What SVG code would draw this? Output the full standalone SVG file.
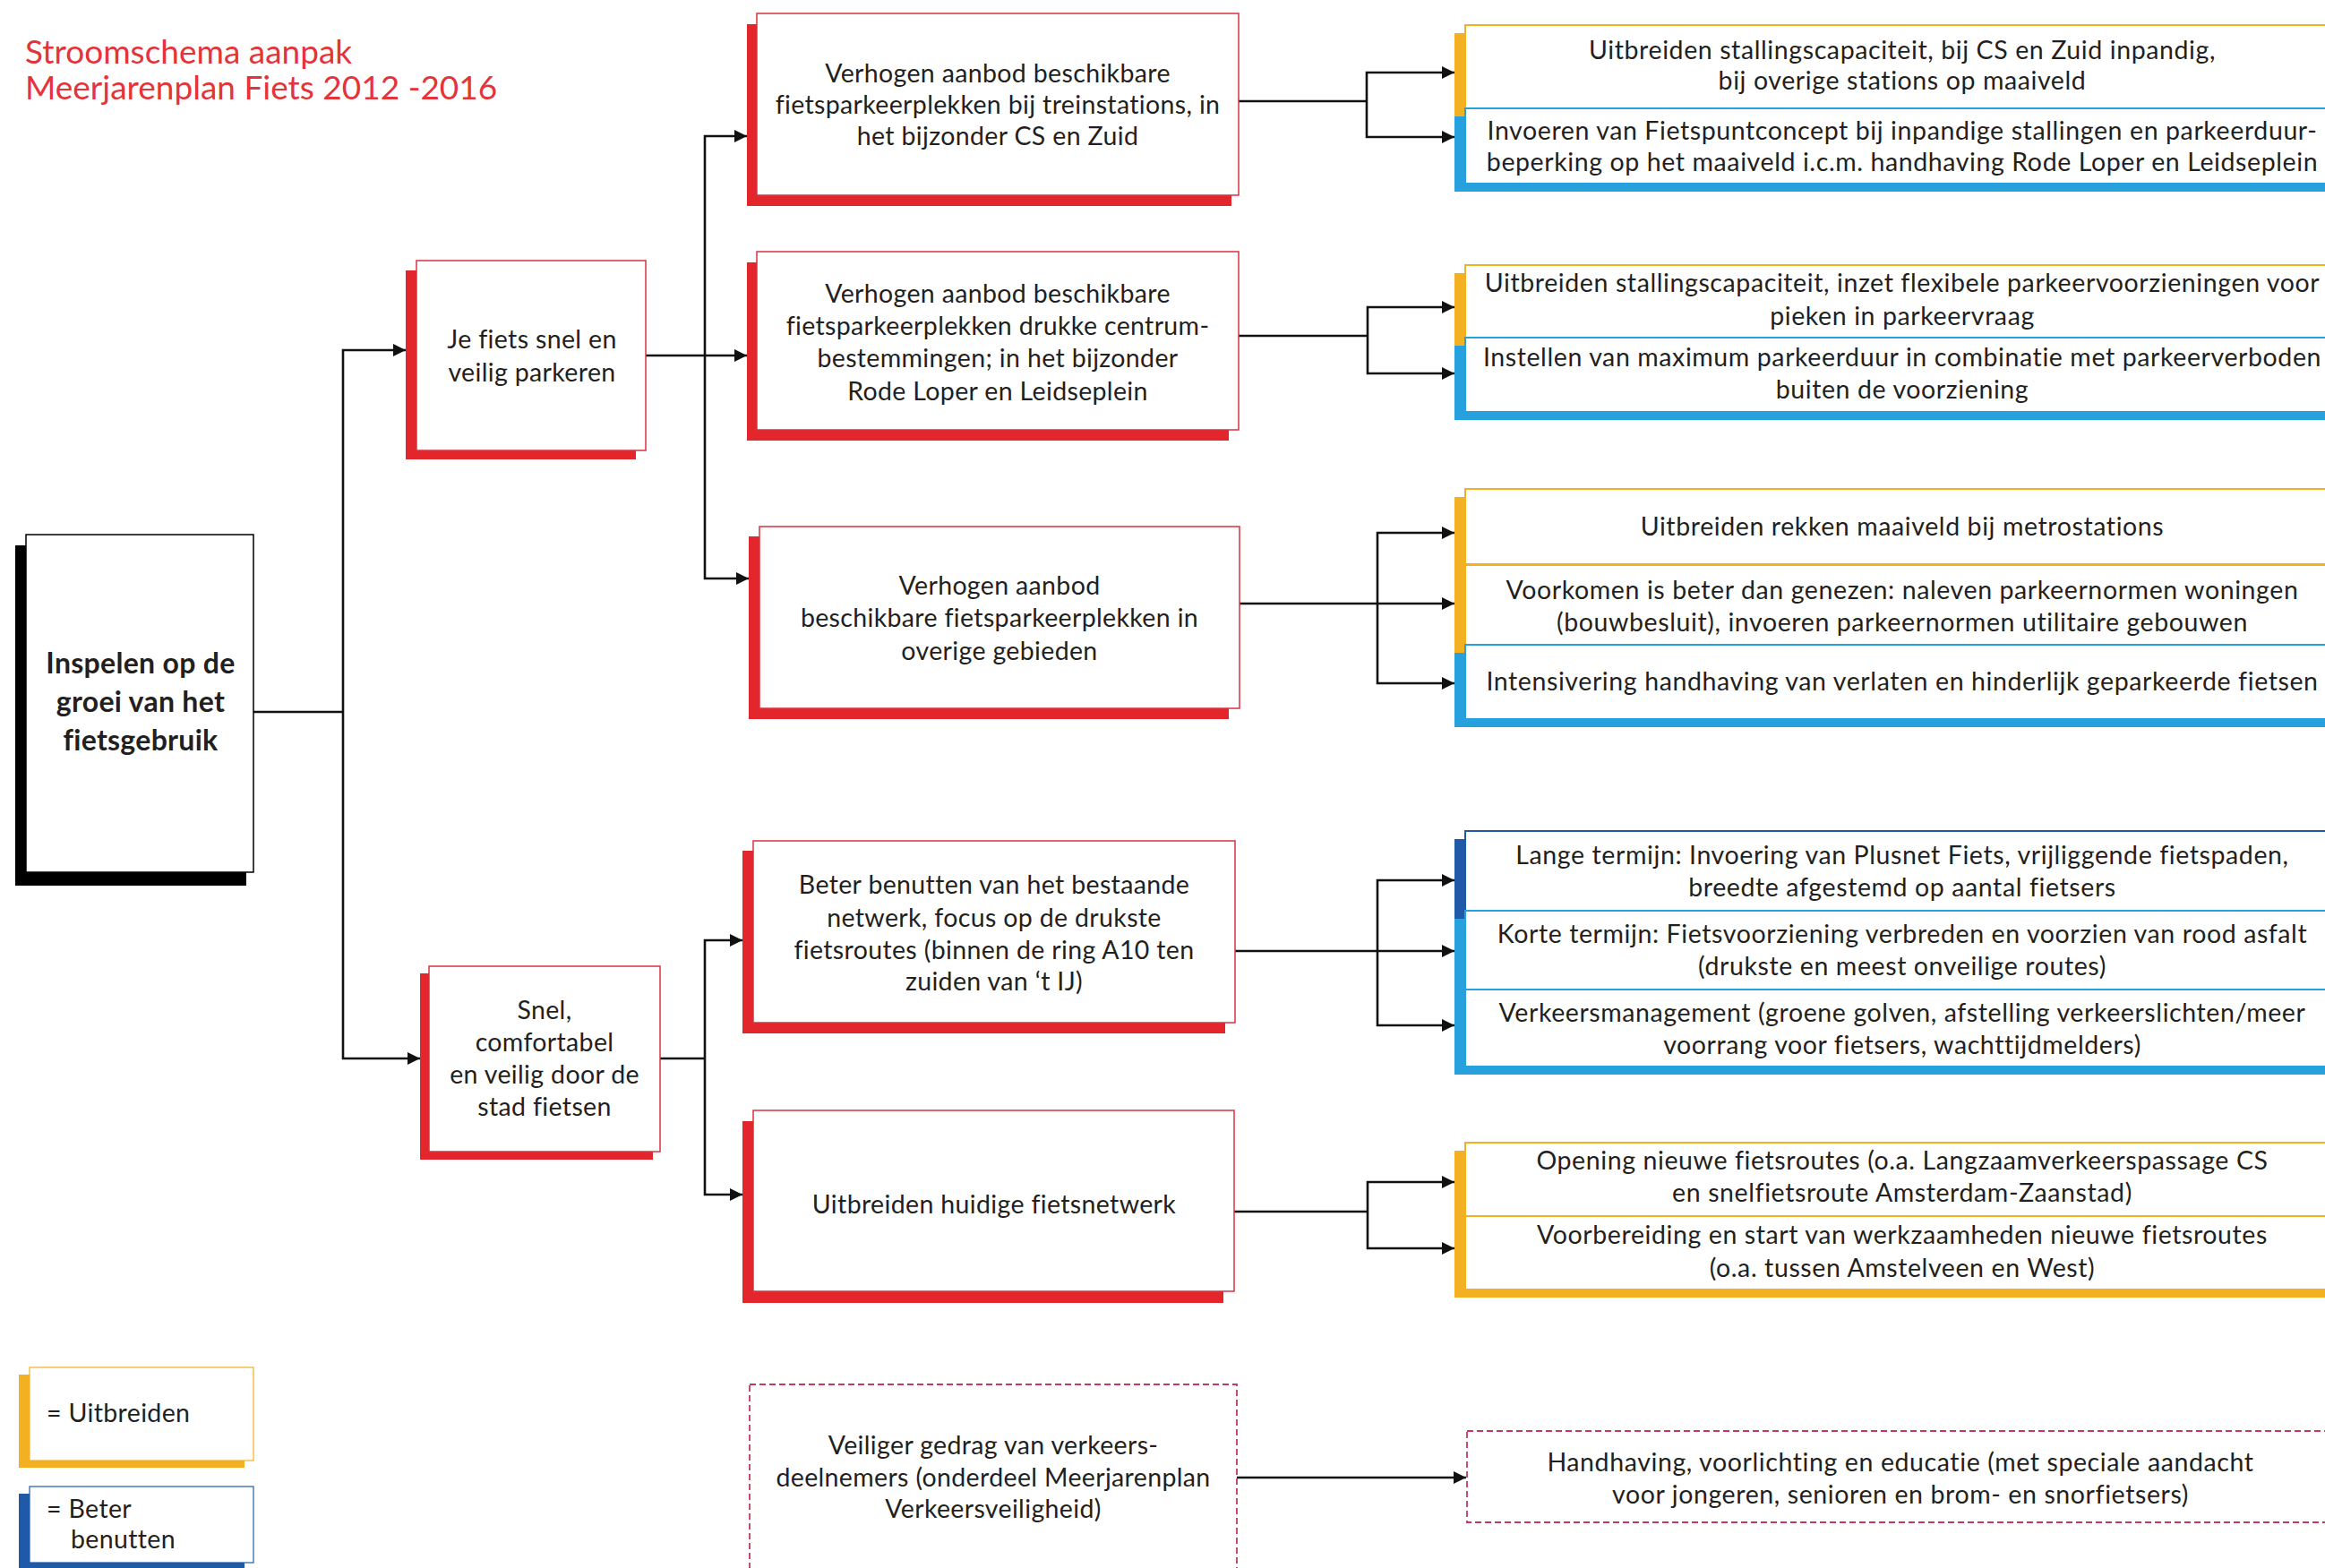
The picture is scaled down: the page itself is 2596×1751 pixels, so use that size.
<svg xmlns="http://www.w3.org/2000/svg" width="2596" height="1751" viewBox="0 0 2596 1751">
<style>
.t{font-family:Lato,"Noto Sans",sans-serif;font-size:28.5px;letter-spacing:0.35px;fill:#231f20;text-anchor:middle}
.rc{letter-spacing:0.6px}
.tl{text-anchor:start}
.tb{font-weight:bold;font-size:32px;letter-spacing:0.3px}
.title{font-family:Lato,"Noto Sans",sans-serif;font-size:37px;fill:#e4343a}
.sk{fill:#000}
.sr{fill:#e3262b}
.sy{fill:#f3b022}
.sb{fill:#27a1dd}
.sd{fill:#1f5aa8}
.wk{fill:#fff;stroke:#000;stroke-width:1.5}
.wr{fill:#fff;stroke:#d8323f;stroke-width:1.5}
.wy{fill:#fff;stroke:#f3b022;stroke-width:2}
.wb{fill:#fff;stroke:#27a1dd;stroke-width:2}
.wd{fill:#fff;stroke:#1f5aa8;stroke-width:2}
.dash{fill:#fff;stroke:#c33a5c;stroke-width:1.8;stroke-dasharray:7 4}
.ln{fill:none;stroke:#111;stroke-width:2.6}
.ar{fill:none;stroke:#111;stroke-width:2.6;marker-end:url(#ah)}
</style>
<defs>
<marker id="ah" viewBox="0 0 10 10" refX="10" refY="5" markerUnits="userSpaceOnUse" markerWidth="16" markerHeight="14" orient="auto">
<path d="M0,0 L10,5 L0,10 z" fill="#111"/>
</marker>
</defs>
<rect width="2596" height="1751" fill="#fff"/>

<g id="title">
<text class="title" x="28" y="71">Stroomschema aanpak</text>
<text class="title" x="28" y="111">Meerjarenplan Fiets 2012 -2016</text>
</g>

<g id="connectors">
<path class="ln" d="M283,795 H383"/>
<path class="ar" d="M383,795 V391 H453"/>
<path class="ar" d="M383,795 V1182 H469"/>
<path class="ln" d="M721,397 H787"/>
<path class="ar" d="M787,397 V152 H834"/>
<path class="ar" d="M787,397 H834"/>
<path class="ar" d="M787,397 V646 H836"/>
<path class="ln" d="M737,1182 H787"/>
<path class="ar" d="M787,1182 V1050 H829"/>
<path class="ar" d="M787,1182 V1334 H829"/>
<path class="ln" d="M1383,113 H1526"/>
<path class="ar" d="M1526,113 V81 H1624"/>
<path class="ar" d="M1526,113 V153 H1624"/>
<path class="ln" d="M1383,375 H1527"/>
<path class="ar" d="M1527,375 V343 H1624"/>
<path class="ar" d="M1527,375 V417 H1624"/>
<path class="ln" d="M1384,674 H1538"/>
<path class="ar" d="M1538,674 V595 H1624"/>
<path class="ar" d="M1538,674 H1624"/>
<path class="ar" d="M1538,674 V763 H1624"/>
<path class="ln" d="M1379,1062 H1538"/>
<path class="ar" d="M1538,1062 V983 H1624"/>
<path class="ar" d="M1538,1062 H1624"/>
<path class="ar" d="M1538,1062 V1145 H1624"/>
<path class="ln" d="M1378,1353 H1527"/>
<path class="ar" d="M1527,1353 V1320 H1624"/>
<path class="ar" d="M1527,1353 V1394 H1624"/>
<path class="ar" d="M1381,1650 H1637"/>
</g>

<g id="n-root">
<rect class="sk" x="17" y="609" width="258" height="380"/>
<rect class="wk" x="29" y="597" width="254" height="377"/>
<text class="t tb" x="157" y="752">Inspelen op de</text>
<text class="t tb" x="157" y="795">groei van het</text>
<text class="t tb" x="157" y="838">fietsgebruik</text>
</g>

<g id="n-parkeren">
<rect class="sr" x="453" y="302" width="257" height="211"/>
<rect class="wr" x="465" y="291" width="256" height="212"/>
<text class="t" x="594" y="389">Je fiets snel en</text>
<text class="t" x="594" y="426">veilig parkeren</text>
</g>

<g id="n-fietsen">
<rect class="sr" x="469" y="1087" width="260" height="208"/>
<rect class="wr" x="479" y="1079" width="258" height="207"/>
<text class="t" x="608" y="1138">Snel,</text>
<text class="t" x="608" y="1174">comfortabel</text>
<text class="t" x="608" y="1210">en veilig door de</text>
<text class="t" x="608" y="1246">stad fietsen</text>
</g>

<g id="n-b1">
<rect class="sr" x="834" y="27" width="541" height="203"/>
<rect class="wr" x="845" y="15" width="538" height="203"/>
<text class="t" x="1114" y="92">Verhogen aanbod beschikbare</text>
<text class="t" x="1114" y="127">fietsparkeerplekken bij treinstations, in</text>
<text class="t" x="1114" y="162">het bijzonder CS en Zuid</text>
</g>

<g id="n-b2">
<rect class="sr" x="834" y="293" width="538" height="199"/>
<rect class="wr" x="845" y="281" width="538" height="199"/>
<text class="t" x="1114" y="338">Verhogen aanbod beschikbare</text>
<text class="t" x="1114" y="374">fietsparkeerplekken drukke centrum-</text>
<text class="t" x="1114" y="410">bestemmingen; in het bijzonder</text>
<text class="t" x="1114" y="447">Rode Loper en Leidseplein</text>
</g>

<g id="n-b3">
<rect class="sr" x="836" y="599" width="536" height="204"/>
<rect class="wr" x="848" y="588" width="536" height="203"/>
<text class="t" x="1116" y="664">Verhogen aanbod</text>
<text class="t" x="1116" y="700">beschikbare fietsparkeerplekken in</text>
<text class="t" x="1116" y="737">overige gebieden</text>
</g>

<g id="n-b4">
<rect class="sr" x="829" y="950" width="539" height="204"/>
<rect class="wr" x="841" y="939" width="538" height="203"/>
<text class="t" x="1110" y="998">Beter benutten van het bestaande</text>
<text class="t" x="1110" y="1035">netwerk, focus op de drukste</text>
<text class="t" x="1110" y="1071">fietsroutes (binnen de ring A10 ten</text>
<text class="t" x="1110" y="1106">zuiden van ‘t IJ)</text>
</g>

<g id="n-b5">
<rect class="sr" x="829" y="1252" width="537" height="203"/>
<rect class="wr" x="841" y="1240" width="537" height="202"/>
<text class="t" x="1110" y="1355">Uitbreiden huidige fietsnetwerk</text>
</g>

<g id="n-b6">
<rect class="dash" x="837" y="1546" width="544" height="230"/>
<text class="t" x="1109" y="1624">Veiliger gedrag van verkeers-</text>
<text class="t" x="1109" y="1660">deelnemers (onderdeel Meerjarenplan</text>
<text class="t" x="1109" y="1695">Verkeersveiligheid)</text>
</g>

<g id="n-r1">
<rect class="sy" x="1624" y="37" width="980" height="93"/>
<rect class="wy" x="1636" y="28" width="980" height="93"/>
<rect class="sb" x="1624" y="130" width="980" height="84"/>
<rect class="wb" x="1636" y="121" width="980" height="84"/>
<text class="t rc" x="2124" y="66">Uitbreiden stallingscapaciteit, bij CS en Zuid inpandig,</text>
<text class="t rc" x="2124" y="100">bij overige stations op maaiveld</text>
<text class="t rc" x="2124" y="156">Invoeren van Fietspuntconcept bij inpandige stallingen en parkeerduur-</text>
<text class="t rc" x="2124" y="191">beperking op het maaiveld i.c.m. handhaving Rode Loper en Leidseplein</text>
</g>

<g id="n-r2">
<rect class="sy" x="1624" y="305" width="980" height="81"/>
<rect class="wy" x="1636" y="296" width="980" height="81"/>
<rect class="sb" x="1624" y="386" width="980" height="83"/>
<rect class="wb" x="1636" y="377" width="980" height="83"/>
<text class="t rc" x="2124" y="326">Uitbreiden stallingscapaciteit, inzet flexibele parkeervoorzieningen voor</text>
<text class="t rc" x="2124" y="363">pieken in parkeervraag</text>
<text class="t rc" x="2124" y="409">Instellen van maximum parkeerduur in combinatie met parkeerverboden</text>
<text class="t rc" x="2124" y="445">buiten de voorziening</text>
</g>

<g id="n-r3">
<rect class="sy" x="1624" y="555" width="980" height="84"/>
<rect class="wy" x="1636" y="546" width="980" height="84"/>
<rect class="sy" x="1624" y="639" width="980" height="90"/>
<rect class="wy" x="1636" y="631" width="980" height="89"/>
<rect class="sb" x="1624" y="729" width="980" height="83"/>
<rect class="wb" x="1636" y="720" width="980" height="83"/>
<text class="t rc" x="2124" y="598">Uitbreiden rekken maaiveld bij metrostations</text>
<text class="t rc" x="2124" y="669">Voorkomen is beter dan genezen: naleven parkeernormen woningen</text>
<text class="t rc" x="2124" y="705">(bouwbesluit), invoeren parkeernormen utilitaire gebouwen</text>
<text class="t rc" x="2124" y="771">Intensivering handhaving van verlaten en hinderlijk geparkeerde fietsen</text>
</g>

<g id="n-r4">
<rect class="sd" x="1624" y="937" width="980" height="89"/>
<rect class="wd" x="1636" y="928" width="980" height="89"/>
<rect class="sb" x="1624" y="1026" width="980" height="88"/>
<rect class="wb" x="1636" y="1017" width="980" height="88"/>
<rect class="sb" x="1624" y="1114" width="980" height="86"/>
<rect class="wb" x="1636" y="1105" width="980" height="86"/>
<text class="t rc" x="2124" y="965">Lange termijn: Invoering van Plusnet Fiets, vrijliggende fietspaden,</text>
<text class="t rc" x="2124" y="1001">breedte afgestemd op aantal fietsers</text>
<text class="t rc" x="2124" y="1053">Korte termijn: Fietsvoorziening verbreden en voorzien van rood asfalt</text>
<text class="t rc" x="2124" y="1089">(drukste en meest onveilige routes)</text>
<text class="t rc" x="2124" y="1141">Verkeersmanagement (groene golven, afstelling verkeerslichten/meer</text>
<text class="t rc" x="2124" y="1177">voorrang voor fietsers, wachttijdmelders)</text>
</g>

<g id="n-r5">
<rect class="sy" x="1624" y="1285" width="980" height="82"/>
<rect class="wy" x="1636" y="1276" width="980" height="82"/>
<rect class="sy" x="1624" y="1367" width="980" height="82"/>
<rect class="wy" x="1636" y="1358" width="980" height="82"/>
<text class="t rc" x="2124" y="1306">Opening nieuwe fietsroutes (o.a. Langzaamverkeerspassage CS</text>
<text class="t rc" x="2124" y="1342">en snelfietsroute Amsterdam-Zaanstad)</text>
<text class="t rc" x="2124" y="1389">Voorbereiding en start van werkzaamheden nieuwe fietsroutes</text>
<text class="t rc" x="2124" y="1426">(o.a. tussen Amstelveen en West)</text>
</g>

<g id="n-r6">
<rect class="dash" x="1638" y="1598" width="980" height="102"/>
<text class="t rc" x="2122" y="1643">Handhaving, voorlichting en educatie (met speciale aandacht</text>
<text class="t rc" x="2122" y="1679">voor jongeren, senioren en brom- en snorfietsers)</text>
</g>

<g id="legend-uitbreiden">
<rect class="sy" x="21" y="1535" width="252" height="104"/>
<rect class="wy" x="33" y="1527" width="250" height="104" style="stroke-width:1.2"/>
<text class="t tl" x="52" y="1588">= Uitbreiden</text>
</g>

<g id="legend-benutten">
<rect class="sd" x="21" y="1668" width="252" height="90"/>
<rect class="wd" x="33" y="1660" width="250" height="85" style="stroke-width:1.2"/>
<text class="t tl" x="52" y="1695">= Beter</text>
<text class="t tl" x="79" y="1729">benutten</text>
</g>
</svg>
